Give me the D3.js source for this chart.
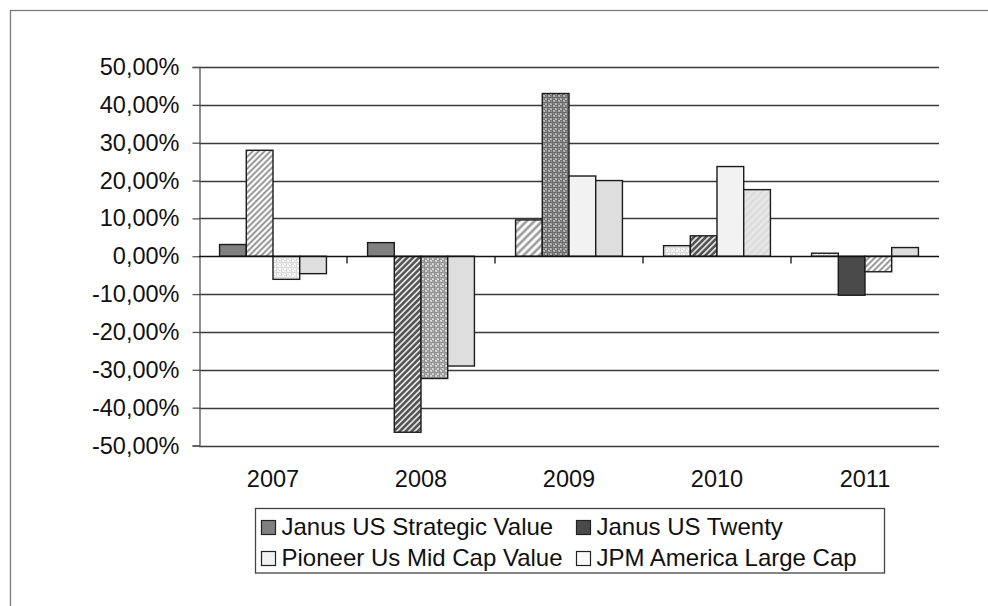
<!DOCTYPE html>
<html>
<head>
<meta charset="utf-8">
<script src="https://cdn.jsdelivr.net/npm/d3@7"></script>
<style>
  html, body { margin: 0; padding: 0; background: #fff; }
  svg { display: block; font-family: "Liberation Sans", Arial, sans-serif; }
</style>
</head>
<body>
<svg id="chart" width="988" height="606"></svg>
<script>
// data (fractions)
const years = ["2007", "2008", "2009", "2010", "2011"];
const seriesNames = ["Janus US Strategic Value", "Janus US Twenty", "Pioneer Us Mid Cap Value", "JPM America Large Cap"];
const strategicValue = [0.031, 0.036, 0.096, 0.028, 0.008];
const usTwenty = [0.280, -0.465, 0.430, 0.054, -0.103];
const pioneerMidCap = [-0.061, -0.323, 0.212, 0.237, -0.041];
const jpmLargeCap = [-0.046, -0.290, 0.200, 0.176, 0.023];
const yTicks = [-0.5, -0.4, -0.3, -0.2, -0.1, 0, 0.1, 0.2, 0.3, 0.4, 0.5];

const allSeries = [strategicValue, usTwenty, pioneerMidCap, jpmLargeCap];

// fill used by each bar (year x series), the original varies them per point
const barFills = [
  ["solidMid", "hatchLight", "dotsFaint", "solidPale"],
  ["solidMid", "hatchDark", "dotsMid", "solidPale"],
  ["hatchMid", "dotsDark", "solidWhite", "solidPale"],
  ["dotsFaint", "hatchDark", "solidWhite", "hatchPale"],
  ["dotsFaint", "solidDark", "hatchLight", "solidPale"]
];
const legendFills = ["#808080", "#4a4a4a", "#f2f2f2", "#fafafa"];
const solids = { solidMid: "#808080", solidDark: "#4a4a4a", solidWhite: "#f2f2f2", solidPale: "#dedede" };

const svg = d3.select("#chart");

// page frame (only left and top edges are visible)
svg.append("rect")
  .attr("x", 10.5).attr("y", 10.5)
  .attr("width", 1200).attr("height", 1200)
  .attr("fill", "none").attr("stroke", "#7a7a7a").attr("stroke-width", 1.3);

// patterns
const defs = svg.append("defs");
function hatch(id, bg, color, gap, w) {
  let p = defs.append("pattern").attr("id", id)
    .attr("patternUnits", "userSpaceOnUse")
    .attr("width", gap).attr("height", gap)
    .attr("patternTransform", "rotate(45)");
  p.append("rect").attr("width", gap).attr("height", gap).attr("fill", bg);
  p.append("line").attr("x1", gap / 2).attr("x2", gap / 2)
    .attr("y1", 0).attr("y2", gap)
    .attr("stroke", color).attr("stroke-width", w);
}
function dots(id, bg, fill, stroke, size, r) {
  let p = defs.append("pattern").attr("id", id)
    .attr("patternUnits", "userSpaceOnUse")
    .attr("width", size).attr("height", size);
  p.append("rect").attr("width", size).attr("height", size).attr("fill", bg);
  [[size / 4, size / 4], [size * 3 / 4, size * 3 / 4]].forEach(([cx, cy]) => {
    p.append("circle").attr("cx", cx).attr("cy", cy).attr("r", r)
      .attr("fill", fill).attr("stroke", stroke).attr("stroke-width", 0.8);
  });
}
hatch("hatchLight", "#ffffff", "#8a8a8a", 4.2, 1.8);
hatch("hatchMid", "#ffffff", "#9a9a9a", 5.5, 2.6);
hatch("hatchDark", "#ffffff", "#555555", 4.2, 2.8);
hatch("hatchPale", "#dcdcdc", "#eaeaea", 5, 2);
dots("dotsDark", "#bdbdbd", "#929292", "#4a4a4a", 5, 1.5);
dots("dotsMid", "#dadada", "#adadad", "#7a7a7a", 5, 1.5);
dots("dotsFaint", "#ffffff", "#f0f0f0", "#cdcdcd", 5, 1.5);

function fillFor(key) {
  return solids[key] ? solids[key] : `url(#${key})`;
}

// scales
const x = d3.scaleBand().domain(years).range([199, 939]).padding(0);
const xs = d3.scaleBand().domain(d3.range(seriesNames.length))
  .range([0, x.bandwidth()]).paddingInner(0).paddingOuter(0.77);
const y = d3.scaleLinear().domain([-0.5, 0.5]).range([445.5, 67]);

const locale = d3.formatLocale({ decimal: ",", thousands: ".", grouping: [3], currency: ["", "€"], minus: "-" });
const fmt = locale.format(".2%");

// gridlines
svg.append("g")
  .selectAll("line")
  .data(yTicks.filter(d => d !== 0))
  .join("line")
  .attr("x1", 199).attr("x2", 939)
  .attr("y1", d => Math.round(y(d)) + 0.5).attr("y2", d => Math.round(y(d)) + 0.5)
  .attr("stroke", "#3a3a3a").attr("stroke-width", 1.3);

// y axis
const yAxis = svg.append("g")
  .attr("transform", "translate(199.5,0)")
  .call(d3.axisLeft(y).tickValues(yTicks).tickFormat(fmt).tickSize(7).tickPadding(13));
yAxis.select(".domain").attr("stroke", "#555").attr("stroke-width", 1.3);
yAxis.selectAll(".tick line").attr("stroke", "#555").attr("stroke-width", 1.3);
yAxis.selectAll(".tick text")
  .attr("font-size", 23.5).attr("fill", "#111")
  .attr("font-family", "'Liberation Sans', Arial, sans-serif");

// bars
const groups = svg.append("g")
  .selectAll("g")
  .data(years)
  .join("g")
  .attr("transform", d => `translate(${x(d)},0)`);

groups.selectAll("rect")
  .data((yr, i) => allSeries.map((s, j) => ({ v: s[i], fill: barFills[i][j], j })))
  .join("rect")
  .attr("x", d => xs(d.j))
  .attr("width", xs.bandwidth())
  .attr("y", d => y(Math.max(0, d.v)))
  .attr("height", d => Math.abs(y(d.v) - y(0)))
  .attr("fill", d => fillFor(d.fill))
  .attr("stroke", "#1c1c1c")
  .attr("stroke-width", 1.4);

// x axis at zero with ticks on category edges
const x0 = Math.round(y(0)) + 0.5;
svg.append("line")
  .attr("x1", 199).attr("x2", 939)
  .attr("y1", x0).attr("y2", x0)
  .attr("stroke", "#111").attr("stroke-width", 1.4);
svg.append("g")
  .selectAll("line")
  .data(years.slice(1))
  .join("line")
  .attr("x1", d => x(d)).attr("x2", d => x(d))
  .attr("y1", x0).attr("y2", x0 + 7)
  .attr("stroke", "#111").attr("stroke-width", 1.3);

svg.append("g")
  .selectAll("text")
  .data(years)
  .join("text")
  .attr("x", d => x(d) + x.bandwidth() / 2)
  .attr("y", 486.5)
  .attr("text-anchor", "middle")
  .attr("font-size", 23.5)
  .attr("fill", "#111")
  .text(d => d);

// legend
svg.append("rect")
  .attr("x", 255.5).attr("y", 508.5)
  .attr("width", 629).attr("height", 64.5)
  .attr("fill", "#fff").attr("stroke", "#444").attr("stroke-width", 1.3);

const legendPos = [[261, 520], [576, 520], [261, 551], [576, 551]];
const legend = svg.append("g");
seriesNames.forEach((name, i) => {
  const [lx, ly] = legendPos[i];
  legend.append("rect")
    .attr("x", lx + 0.5).attr("y", ly + 0.5)
    .attr("width", 14).attr("height", 14)
    .attr("fill", legendFills[i]).attr("stroke", "#222").attr("stroke-width", 1.2);
  legend.append("text")
    .attr("x", lx + 20.5).attr("y", ly + 14.5)
    .attr("font-size", 24).attr("fill", "#111")
    .text(name);
});
</script>
</body>
</html>
